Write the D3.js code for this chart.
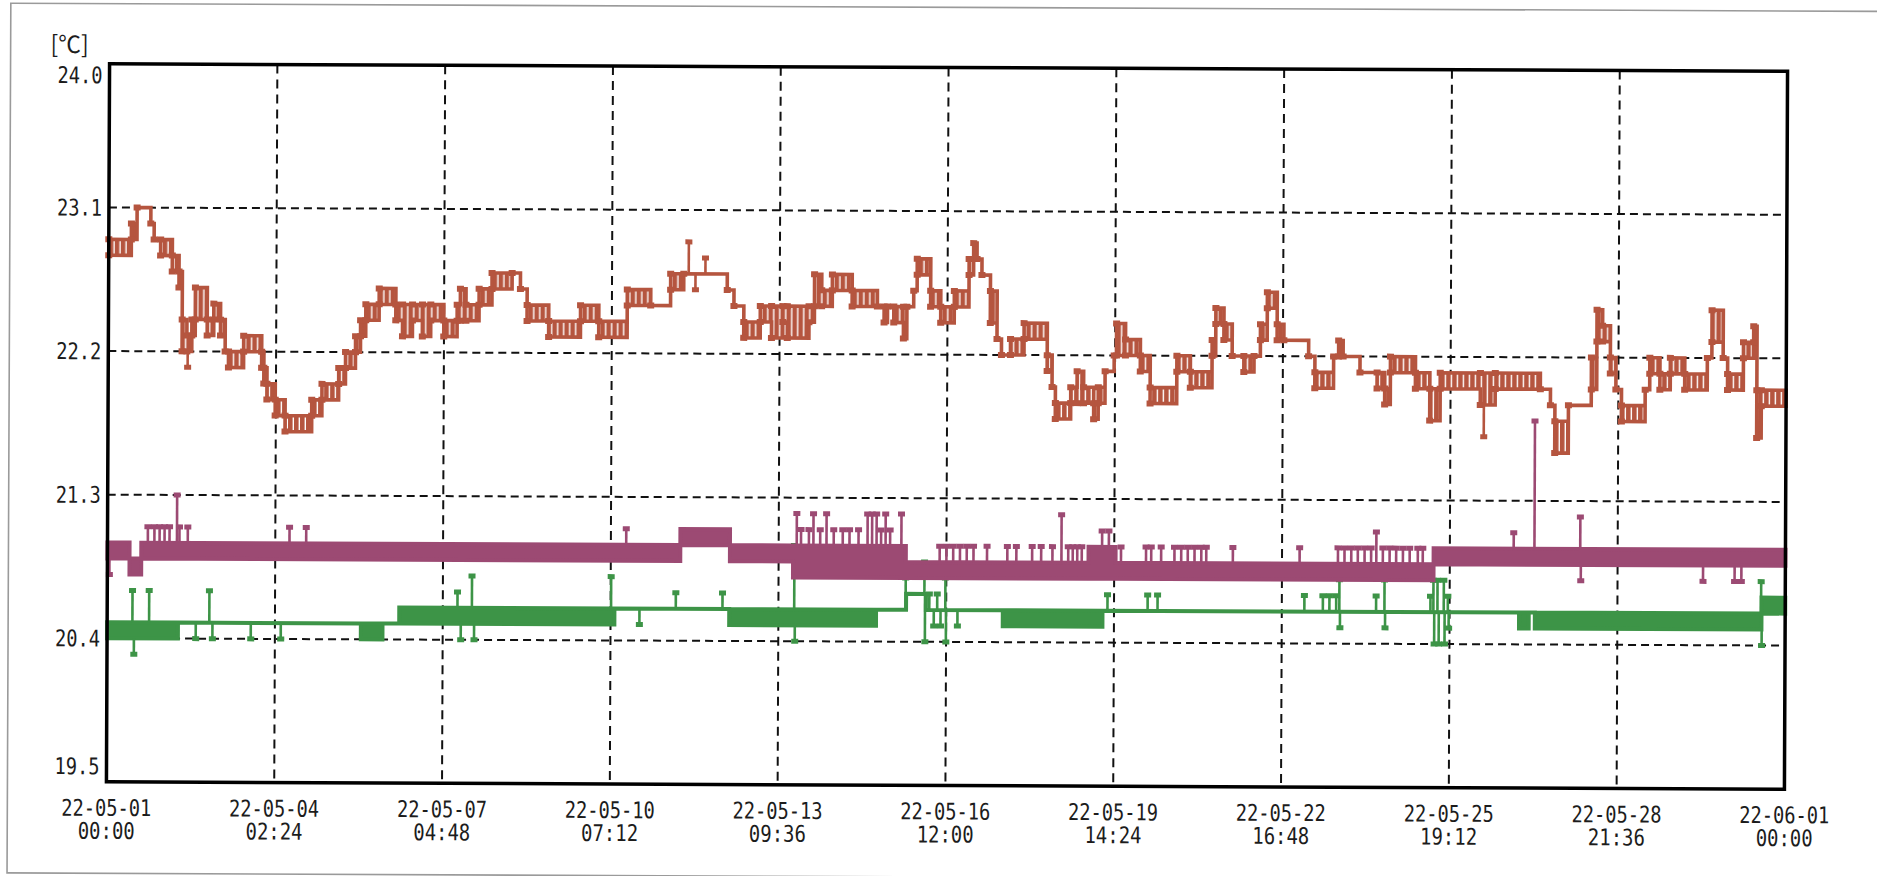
<!DOCTYPE html>
<html><head><meta charset="utf-8">
<script src="https://cdn.jsdelivr.net/npm/d3@7"></script>
<style>html,body{margin:0;padding:0;background:#fff;overflow:hidden}</style>
</head><body>
<svg id="c" width="1877" height="876"></svg>
<script>
// ---------- data (hours from 2022-05-01 00:00) ----------
const START = "2022-05-01T00:00:00Z";
const END = "2022-06-01T00:00:00Z";
const xTickTimes = ["2022-05-01T00:00:00Z","2022-05-04T02:24:00Z","2022-05-07T04:48:00Z","2022-05-10T07:12:00Z",
  "2022-05-13T09:36:00Z","2022-05-16T12:00:00Z","2022-05-19T14:24:00Z","2022-05-22T16:48:00Z",
  "2022-05-25T19:12:00Z","2022-05-28T21:36:00Z","2022-06-01T00:00:00Z"];
const yTicks = [19.5, 20.4, 21.3, 22.2, 23.1, 24.0];
const unitLabel = "[℃]";

// segments: [startHour, low, high] (step, holds until next start)
const redSeg = [
[0,22.8,22.9],[10,22.9,23.0],[12.5,23.1,23.1],[18.6,23.0,23.0],[20.1,22.9,22.9],[23,22.8,22.9],
[28.2,22.7,22.8],[31.2,22.6,22.7],[32.7,22.2,22.4],[34.8,22.2,22.3],[37,22.3,22.4],[38.5,22.4,22.6],
[43.8,22.3,22.4],[46.7,22.4,22.5],[49.7,22.3,22.4],[51.8,22.2,22.2],[53.3,22.1,22.2],[60,22.2,22.3],
[68,22.1,22.2],[69,22.0,22.1],[70.4,21.9,22.0],[74.1,21.8,21.9],[78.5,21.7,21.8],[90.3,21.8,21.9],
[94.8,21.9,22.0],[102.2,22.0,22.1],[105.2,22.1,22.2],[109.6,22.2,22.3],[111.8,22.3,22.4],[114.1,22.4,22.5],
[120,22.5,22.6],[127.4,22.4,22.5],[130.4,22.3,22.5],[134.8,22.4,22.5],[139.2,22.3,22.5],[142.9,22.4,22.5],
[148.7,22.3,22.4],[154.6,22.4,22.5],[156,22.4,22.6],[158.5,22.4,22.5],[164.3,22.5,22.6],[170,22.6,22.7],
[178.9,22.7,22.7],[182.6,22.6,22.6],[185.6,22.4,22.5],[195.2,22.3,22.4],[209.3,22.4,22.5],[217.4,22.3,22.4],
[230,22.5,22.6],[240.4,22.5,22.5],[249.2,22.6,22.7],[255,22.7,22.7],[274.3,22.6,22.6],[277.3,22.5,22.5],
[281.7,22.3,22.4],[289,22.4,22.5],[294,22.3,22.5],[299,22.4,22.5],[301,22.3,22.5],[310.6,22.4,22.5],
[313,22.5,22.7],[316.2,22.5,22.6],[320.9,22.6,22.7],[329.7,22.5,22.6],[340.9,22.5,22.5],[343.9,22.4,22.5],
[345.4,22.5,22.5],[348.2,22.4,22.5],[352.5,22.3,22.5],[354,22.5,22.5],[357,22.6,22.6],[358.5,22.7,22.8],
[364.5,22.5,22.6],[369,22.4,22.5],[375,22.5,22.6],[381.5,22.7,22.8],[383.5,22.8,22.9],[385,22.8,22.8],
[387.2,22.7,22.7],[391,22.4,22.6],[394,22.3,22.3],[396,22.2,22.2],[400,22.2,22.3],[406,22.3,22.4],
[416.3,22.1,22.2],[418.5,22.0,22.0],[420,21.8,21.9],[426.8,21.9,22.0],[429.6,21.9,22.1],[432.5,21.9,22.0],
[437,21.8,21.9],[439,21.9,22.0],[442,22.1,22.1],[446,22.2,22.2],[447,22.2,22.4],[451,22.2,22.3],
[457.6,22.1,22.2],[462,21.9,22.0],[473.8,22.1,22.2],[479.8,22.0,22.1],[489.4,22.2,22.3],[491,22.4,22.5],
[494.6,22.3,22.4],[498.3,22.2,22.2],[503.5,22.1,22.2],[508,22.2,22.2],[510.8,22.3,22.4],[513.8,22.5,22.6],
[518.2,22.3,22.4],[521.2,22.3,22.3],[532.2,22.2,22.2],[535,22.0,22.1],[543.3,22.2,22.2],[545.5,22.2,22.3],
[547.5,22.2,22.2],[555,22.1,22.1],[562.6,22.0,22.1],[566,21.9,22.0],[568.5,22.1,22.2],[579.6,22.0,22.1],
[586,21.8,22.0],[590.6,22.0,22.1],[608.4,21.9,22.1],[615,22.0,22.1],[635,22.0,22.0],[639.5,21.9,21.9],
[641.5,21.6,21.8],[647.5,21.9,21.9],[657.6,22.0,22.2],[660,22.3,22.5],[662.5,22.3,22.4],[666,22.1,22.2],
[668.5,22.0,22.0],[671,21.8,21.9],[681.5,22.0,22.0],[683.5,22.1,22.2],[688,22.0,22.1],[692.6,22.1,22.2],
[699,22.0,22.1],[709,22.2,22.2],[711,22.3,22.5],[716,22.2,22.2],[718,22.0,22.1],[725,22.2,22.3],
[729.5,22.3,22.4],[731,21.7,22.0],[733,21.9,22.0]
];
const redSpikes = [[35.2,22.1],[257.2,22.9],[260.2,22.6],[264.6,22.8],[610,21.7]];

const purpleSeg = [
[0,20.9,21.0],[9.8,20.8,20.9],[15,20.9,21.0],[254,21.0,21.1],[276,20.9,21.0],[304,20.8,21.0],
[354,20.8,20.9],[435,20.8,21.0],[447,20.8,20.9],[588,20.9,21.0]
];
const purpleSpikes = [
[0.9,20.8],[17.9,21.1],[20.8,21.1],[23.1,21.1],[25.3,21.1],[27.5,21.1],[30.8,21.3],[31.9,21.1],[35.6,21.1],
[80.7,21.1],[88.1,21.1],[230,21.1],
[305.6,21.2],[307.5,21.1],[311,21.1],[313,21.2],[316,21.1],[318.8,21.2],[322,21.1],[326,21.1],[329,21.1],
[333,21.1],[337,21.2],[339,21.2],[341,21.2],[343,21.1],[345,21.2],[347,21.1],[352,21.2],
[369,21.0],[372,21.0],[375,21.0],[378,21.0],[381,21.0],[384,21.0],[390,21.0],[399,21.0],[403,21.0],
[410,21.0],[414,21.0],[419,21.0],[423,21.2],[426,21.0],[428,21.0],[430,21.0],[432,21.0],[441,21.1],[444,21.1],
[449.4,21.0],[460.5,21.0],[462.8,21.0],[467.2,21.0],[473.1,21.0],[476.1,21.0],[479,21.0],[482,21.0],[485,21.0],
[487.2,21.0],[499,21.0],[528.6,21.0],[545.6,21.0],[548.5,21.0],[551.5,21.0],[554.4,21.0],[557.4,21.0],
[560.3,21.0],[562.6,21.1],[565.5,21.0],[568.5,21.0],[571.4,21.0],[574.4,21.0],[577.4,21.0],[581,21.0],[583.2,21.0],
[623.5,21.1],[632.7,21.8],[653,21.2],[653.3,20.8],[707.5,20.8],[721.5,20.8],[724.5,20.8]
];

const greenSeg = [
[0,20.4,20.5],[31.4,20.5,20.5],[112.5,20.4,20.5],[122.1,20.5,20.5],[129.5,20.5,20.6],[224.9,20.6,20.6],
[275.8,20.5,20.6],[340.9,20.6,20.6],[354.2,20.7,20.7],[363,20.6,20.6],[397.1,20.5,20.6],
[441.3,20.6,20.6],[626,20.5,20.6],[630.3,20.6,20.6],[633,20.5,20.6],
[733.5,20.6,20.7]
];
const greenSpikes = [
[11.2,20.7],[11.9,20.3],[18.6,20.7],[39.3,20.4],[45.3,20.7],[46.7,20.4],[63.7,20.4],[77,20.4],
[155.3,20.7],[156.8,20.4],[161.7,20.8],[162.7,20.4],[223.4,20.8],[236,20.5],[252.1,20.7],[272.8,20.7],
[304.6,21.0],[304.9,20.4],[354,20.8],[362.3,20.9],[362.6,20.4],[364.5,20.7],[366.5,20.5],[368,20.7],
[369.5,20.5],[371.6,20.8],[371.9,20.4],[377,20.5],
[443.5,20.7],[461.3,20.7],[465.7,20.7],[530.8,20.7],[539,20.7],[541.9,20.7],[544.9,20.7],[546.3,20.8],
[546.6,20.5],[562.6,20.7],[566.3,20.8],[566.6,20.5],[586.7,20.7],
[588,20.8],[588.4,20.4],[589.8,20.8],[590.4,20.4],[592.6,20.8],[593,20.4],[594.4,20.7],[594.8,20.5],
[733.3,20.8],[733.6,20.4]
];

const colors = {red:"#b5553f", purple:"#9c4a73", green:"#3d9447"};

// ---------- drawing ----------
const M = {left:108, right:1786, top:67.5, bottom:785.5};
const t0 = Date.parse(START);
const toDate = h => new Date(t0 + h*3600e3);
const x = d3.scaleUtc().domain([new Date(START), new Date(END)]).range([M.left, M.right]);
const y = d3.scaleLinear().domain([19.5, 24.0]).range([M.bottom, M.top]);

const svg = d3.select("#c");
const defs = svg.append("defs");
const pat = defs.append("pattern").attr("id","redStripe").attr("patternUnits","userSpaceOnUse")
  .attr("width",6).attr("height",6);
pat.append("rect").attr("width",6).attr("height",6).attr("fill","#fff");
pat.append("rect").attr("width",4.6).attr("height",6).attr("fill",colors.red);

const g = svg.append("g").attr("transform","rotate(0.25 946 425)");

// outer frame of the sheet
g.append("rect").attr("x",9).attr("y",7.3).attr("width",1950).attr("height",869.7)
  .attr("fill","none").attr("stroke","#9a9a9a").attr("stroke-width",1.6);

// grid
const innerY = yTicks.filter(v => v > 19.5 && v < 24.0);
g.append("g").selectAll("line").data(innerY).join("line")
  .attr("x1",M.left).attr("x2",M.right).attr("y1",d=>y(d)).attr("y2",d=>y(d))
  .attr("stroke","#111").attr("stroke-width",2).attr("stroke-dasharray","8,5");
const xTicks = xTickTimes.map(s => new Date(s));
g.append("g").selectAll("line").data(xTicks.slice(1,-1)).join("line")
  .attr("x1",d=>x(d)).attr("x2",d=>x(d)).attr("y1",M.top).attr("y2",M.bottom)
  .attr("stroke","#111").attr("stroke-width",2).attr("stroke-dasharray","9,6");

function segAt(seg, h){
  let s = seg[0];
  for (const d of seg){ if (d[0] <= h) s = d; else break; }
  return s;
}
function drawSeries(seg, spikes, color, fill, sw, segMarkers){
  const last = seg[seg.length-1];
  const pts = seg.map(d => ({t:toDate(d[0]), lo:d[1], hi:d[2]}));
  pts.push({t:new Date(END), lo:last[1], hi:last[2]});
  const area = d3.area().curve(d3.curveStepAfter)
    .x(d=>x(d.t)).y0(d=>y(d.lo)).y1(d=>y(d.hi));
  const sg = g.append("g");
  sg.append("path").datum(pts).attr("d",area)
    .attr("fill",fill).attr("stroke",color).attr("stroke-width",sw).attr("stroke-linejoin","miter");
  const sp = spikes.map(d => {
    const s = segAt(seg, d[0]);
    const base = d[1] > s[2] ? s[2] : s[1];
    return {t:toDate(d[0]), v:d[1], base};
  });
  sg.selectAll("line.sp").data(sp).join("line")
    .attr("x1",d=>x(d.t)).attr("x2",d=>x(d.t)).attr("y1",d=>y(d.base)).attr("y2",d=>y(d.v))
    .attr("stroke",color).attr("stroke-width",2.6);
  sg.selectAll("rect.sp").data(sp).join("rect")
    .attr("x",d=>x(d.t)-3.5).attr("y",d=>y(d.v)-2.5).attr("width",7).attr("height",5)
    .attr("fill",color);
  if (segMarkers){
    const mk = [];
    seg.forEach(d => { mk.push({t:toDate(d[0]), v:d[1]}); if (d[2]!==d[1]) mk.push({t:toDate(d[0]), v:d[2]}); });
    sg.selectAll("rect.mk").data(mk).join("rect")
      .attr("x",d=>x(d.t)-3.5).attr("y",d=>y(d.v)-3).attr("width",7).attr("height",6)
      .attr("fill",color);
  }
}
drawSeries(greenSeg, greenSpikes, colors.green, colors.green, 4, false);
drawSeries(purpleSeg, purpleSpikes, colors.purple, colors.purple, 4, false);
drawSeries(redSeg, redSpikes, colors.red, "url(#redStripe)", 3.6, true);

// plot frame
g.append("rect").attr("x",M.left).attr("y",M.top).attr("width",M.right-M.left).attr("height",M.bottom-M.top)
  .attr("fill","none").attr("stroke","#000").attr("stroke-width",3.5);

// y tick labels
const fmtY = d3.format(".1f");
const yOff = v => v === 24.0 ? 19.5 : (v === 19.5 ? -7.5 : 8.3);
g.append("g").selectAll("text").data(yTicks).join("text")
  .attr("x",101).attr("y",d=>y(d)+yOff(d)).attr("text-anchor","end")
  .attr("font-family","DejaVu Sans Mono").attr("font-size",23).attr("fill","#1c1c1c")
  .attr("textLength",d=>fmtY(d).length*11.25).attr("lengthAdjust","spacingAndGlyphs")
  .text(d=>fmtY(d));

// x tick labels
const f1 = d3.utcFormat("%y-%m-%d"), f2 = d3.utcFormat("%H:%M");
const xl = g.append("g").selectAll("g").data(xTicks).join("g");
xl.append("text").attr("x",d=>x(d)).attr("y",M.bottom+34).attr("text-anchor","middle")
  .attr("font-family","DejaVu Sans Mono").attr("font-size",23).attr("fill","#1c1c1c")
  .attr("textLength",90).attr("lengthAdjust","spacingAndGlyphs").text(d=>f1(d));
xl.append("text").attr("x",d=>x(d)).attr("y",M.bottom+57).attr("text-anchor","middle")
  .attr("font-family","DejaVu Sans Mono").attr("font-size",23).attr("fill","#1c1c1c")
  .attr("textLength",57).attr("lengthAdjust","spacingAndGlyphs").text(d=>f2(d));

// unit
g.append("text").attr("x",49).attr("y",57).attr("font-family","Noto Sans CJK JP")
  .attr("font-size",24).attr("fill","#1c1c1c")
  .attr("textLength",38).attr("lengthAdjust","spacingAndGlyphs").text(unitLabel);
</script>
</body></html>
